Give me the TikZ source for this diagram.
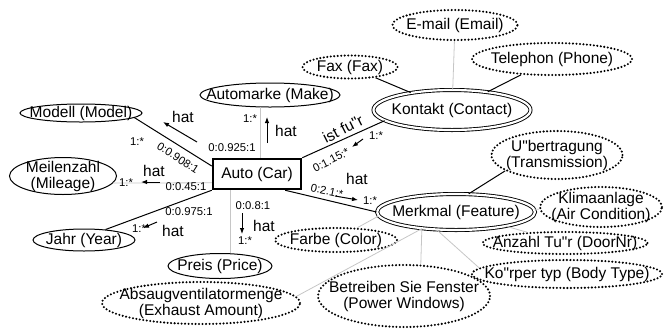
\documentclass[tikz,border=0pt]{standalone}
\usepackage{fontspec}
\setmainfont{Liberation Sans}[Ligatures=TeXOff]
\usetikzlibrary{shapes.geometric,arrows.meta,calc}

\begin{document}
\begin{tikzpicture}[x=1pt,y=-1pt,
    attr/.style={ellipse, draw, line width=1pt, inner sep=0pt},
    multi/.style={attr, double, double distance=2.2pt, line width=0.9pt},
    derived/.style={attr, line width=2.3pt, dash pattern=on 0pt off 3.5pt, line cap=round},
    sz/.style 2 args={minimum width=#1pt, minimum height=#2pt},
    name text/.style={font=\fontsize{15.5}{16}\selectfont, align=center},
    txt/.style={label={[name text]center:#1}},
    entity/.style={rectangle, draw, line width=2.5pt, inner sep=0pt, minimum width=88pt, minimum height=30pt, font=\fontsize{15.5}{16}\selectfont},
    link/.style={line width=1pt},
    weak/.style={gray!45, line width=0.8pt},
    card/.style={inner sep=0pt, font=\fontsize{11.3}{12}\selectfont},
    verb/.style={inner sep=0pt, font=\fontsize{15.5}{16}\selectfont},
    dir/.style={-{Latex[length=6pt,width=4.5pt]}, line width=1pt}]
    \useasboundingbox (0,0) rectangle (666,333);

    % entity and attributes
    \node[entity] (auto) at (257,174) {Auto (Car)};
    \node[attr, sz={122}{18}, txt={Modell (Model)}] (modell) at (81,113) {};
    \node[attr, sz={107}{37}, txt={Meilenzahl\\(Mileage)}] (meilen) at (63,176) {};
    \node[attr, sz={102}{22}, txt={Jahr (Year)}] (jahr) at (84,240) {};
    \node[attr, sz={104}{25}, txt={Preis (Price)}] (preis) at (220,266) {};
    \node[attr, sz={140}{24}, txt={Automarke (Make)}] (marke) at (270,95) {};
    \node[derived, sz={198}{42}, txt={Absaugventilatormenge\\(Exhaust Amount)}] (absaug) at (201,303) {};

    % contact
    \node[multi, sz={157}{40}, txt={Kontakt (Contact)}] (kontakt) at (452,110) {};
    \node[derived, sz={95}{23}, txt={Fax (Fax)}] (fax) at (350,67) {};
    \node[derived, sz={125}{30}, txt={E-mail (Email)}] (email) at (455,25) {};
    \node[derived, sz={160}{32}, txt={Telephon (Phone)}] (phone) at (552,59) {};

    % feature
    \node[multi, sz={158}{36}, txt={Merkmal (Feature)}] (merkmal) at (456,212) {};
    \node[derived, sz={131}{48}, txt={U"bertragung\\(Transmission)}] (uebertr) at (557,155) {};
    \node[derived, sz={122}{40}, txt={Klimaanlage\\(Air Condition)}] (klima) at (601,207) {};
    \node[derived, sz={165}{22}, txt={Anzahl Tu"r (DoorNr)}] (anzahl) at (565,243) {};
    \node[derived, sz={190}{28}, txt={Ko"rper typ (Body Type)}] (koerper) at (567,274) {};
    \node[derived, sz={172}{62}, txt={Betreiben Sie Fenster\\(Power Windows)}] (fenster) at (404,296) {};
    \node[derived, sz={122}{24}, txt={Farbe (Color)}] (farbe) at (336,240) {};

    % connectors
    \draw[link] (auto.170) -- (modell.-5);
    \draw[weak] (auto.191) -- (meilen.-8);
    \draw[link] (auto.south west) -- (jahr.26);
    \draw[weak] (auto.south -| preis.51) -- (preis.51);
    \draw[weak] (auto.north -| marke.233) -- (marke.233);
    \draw[link] (auto.north east) -- (kontakt.189);
    \draw[link] (auto.-30) -- (merkmal.west);
    \draw[link] (fax) -- (kontakt);
    \draw[weak] (email) -- (kontakt);
    \draw[link] (phone) -- (kontakt);
    \draw[link] (merkmal.55) -- (uebertr.197);
    \draw[weak] (merkmal) -- (klima);
    \draw[weak] (merkmal) -- (anzahl);
    \draw[weak] (merkmal.223) -- (koerper.176);
    \draw[weak] (merkmal.206) -- (fenster.62);
    \draw[weak] (merkmal.206) -- (absaug.4);
    \draw[weak] (merkmal.183) -- (farbe.30);

    % Modell
    \node[card] (modell-min) at (137,142) {1:*};
    \node[card, rotate=-33] (modell-max) at (178,158) {0:0.908:1};
    \node[verb] (modell-hat) at (183,117) {hat};
    \draw[dir] (197,142) -- (163,122);

    % Meilenzahl
    \node[verb] (meilen-hat) at (154,171) {hat};
    \node[card] (meilen-min) at (126,183) {1:*};
    \node[card] (meilen-max) at (186,187) {0:0.45:1};
    \draw[dir] (160,182) -- (141,182);

    % Jahr
    \node[card] (jahr-max) at (189,212) {0:0.975:1};
    \node[card] (jahr-min) at (139,229) {1:*};
    \node[verb] (jahr-hat) at (173,231) {hat};
    \draw[dir] (157,222) -- (143,228);

    % Preis
    \node[card] (preis-max) at (253,206) {0:0.8:1};
    \node[verb] (preis-hat) at (264,226) {hat};
    \node[card] (preis-min) at (245,241) {1:*};
    \draw[dir] (242,213) -- (242,234);

    % Automarke
    \node[card] (marke-min) at (250,119) {1:*};
    \node[verb] (marke-hat) at (286,131) {hat};
    \node[card] (marke-max) at (232,148) {0:0.925:1};
    \draw[dir] (267,143) -- (267,117);

    % Kontakt
    \node[verb, rotate=27] (kontakt-ist) at (343,129) {ist fu"r};
    \node[card] (kontakt-min) at (376,136) {1:*};
    \node[card, rotate=27] (kontakt-max) at (331,160) {0:1.15:*};
    \draw[dir] (363,139) -- (352,147);

    % Merkmal
    \node[verb] (merkmal-hat) at (357,179) {hat};
    \node[card, rotate=-12] (merkmal-max) at (327,191) {0:2.1:*};
    \node[card] (merkmal-min) at (370,201) {1:*};
    \draw[dir] (335,196) -- (358,200);
\end{tikzpicture}
\end{document}
